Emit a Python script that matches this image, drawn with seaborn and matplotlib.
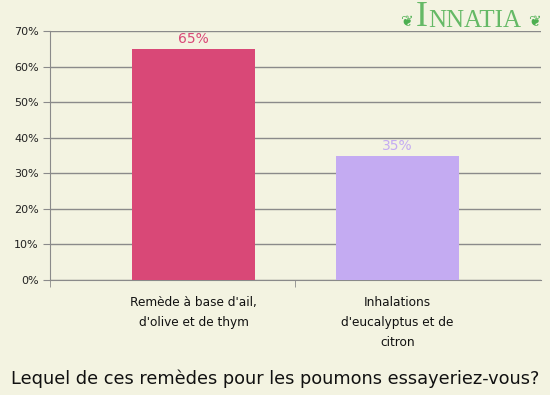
import numpy as np
import pandas as pd
import seaborn as sns
import matplotlib.pyplot as plt

# Chart data
categories = ["Remède à base d'ail,\nd'olive et de thym",
              "Inhalations\nd'eucalyptus et de\ncitron"]
values = [65, 35]
bar_colors = ["#D94877", "#C4ABF2"]
title = "Lequel de ces remèdes pour les poumons essayeriez-vous?"

bg = "#F3F3E1"
df = pd.DataFrame({"cat": categories, "val": values})

fig = plt.figure(figsize=(5.5, 3.95), dpi=100, facecolor=bg)
ax = fig.add_axes([50 / 550, 1 - 280 / 395, 491 / 550, 249 / 395])
ax.set_facecolor(bg)

sns.barplot(data=df, x="cat", y="val", hue="cat", palette=bar_colors,
            width=0.603, legend=False, ax=ax, saturation=1, zorder=3)

ax.set_xlim(-0.703, 1.703)
ax.set_ylim(0, 70)
ax.set_yticks(np.arange(0, 71, 10))
ax.set_yticklabels([f"{v}%" for v in range(0, 71, 10)], fontsize=8, color="#222222")
ax.yaxis.grid(True, color="#8a8a8a", linewidth=1, zorder=0)
ax.set_axisbelow(True)

ax.set_xticks([0, 1])
ax.set_xticklabels(categories, fontsize=8.7, color="#111111", linespacing=1.7, va="top")
ax.tick_params(axis="x", length=0, pad=11.5)
ax.tick_params(axis="y", length=5, color="#8a8a8a", pad=3)
ax.set_xticks([-0.703, 0.5], minor=True)
ax.tick_params(axis="x", which="minor", length=5, color="#8a8a8a", direction="out")
ax.set_xlabel("")
ax.set_ylabel("")

for s in ["top", "right"]:
    ax.spines[s].set_visible(False)
for s in ["left", "bottom"]:
    ax.spines[s].set_color("#8a8a8a")

for i, (v, c) in enumerate(zip(values, bar_colors)):
    ax.text(i, v + 0.8, f"{v}%", ha="center", va="bottom", fontsize=10, color=c)

fig.text(0.5, 1 - 379 / 395, title, ha="center", va="center", fontsize=12.8, color="#111111")

# logo
green = "#4CAF50"
fig.text(422 / 550, 1 - 18 / 395, "I", ha="center", va="center", fontsize=26,
         family="Liberation Serif", color=green, alpha=0.85)
fig.text(428 / 550, 1 - 21 / 395, "NNATIA", ha="left", va="center", fontsize=18,
         family="Liberation Serif", color=green, alpha=0.85)
fig.text(406 / 550, 1 - 22 / 395, "❦", ha="center", va="center", fontsize=11, color=green)
fig.text(534 / 550, 1 - 22 / 395, "❦", ha="center", va="center", fontsize=11, color=green)

fig.savefig("out.png", dpi=100, facecolor=bg)
